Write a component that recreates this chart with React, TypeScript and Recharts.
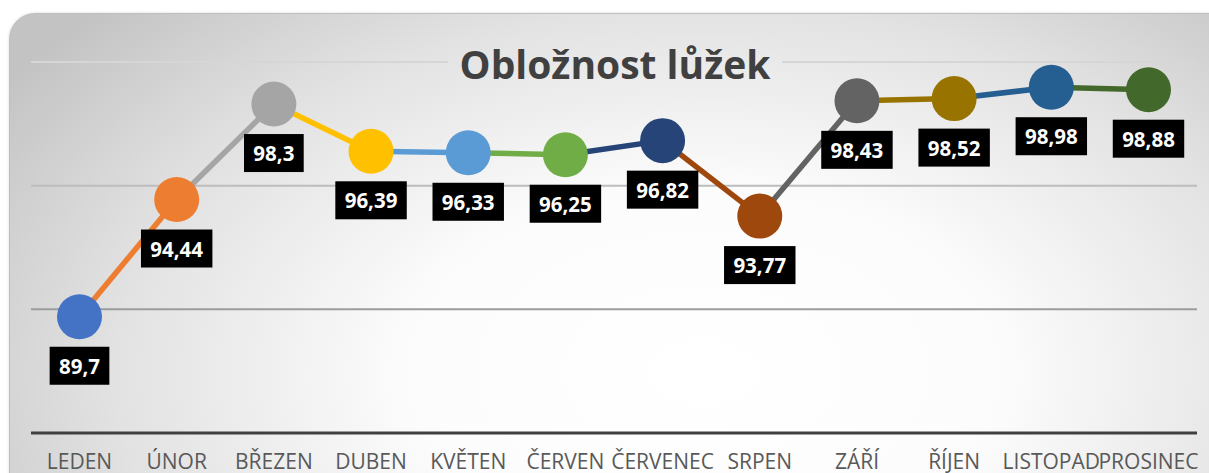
import React from "react";
import { LineChart, Line, XAxis, YAxis, ReferenceLine } from "recharts";

const months = [
  "LEDEN", "ÚNOR", "BŘEZEN", "DUBEN", "KVĚTEN", "ČERVEN",
  "ČERVENEC", "SRPEN", "ZÁŘÍ", "ŘÍJEN", "LISTOPAD", "PROSINEC",
];
const occupancy = [89.7, 94.44, 98.3, 96.39, 96.33, 96.25, 96.82, 93.77, 98.43, 98.52, 98.98, 98.88];
const pointColors = [
  "#4472C4", "#ED7D31", "#A5A5A5", "#FFC000", "#5B9BD5", "#70AD47",
  "#264478", "#9E480E", "#636363", "#997300", "#255E91", "#43682B",
];
const gridLevels = [100, 95, 90];
const gridColors = ["#d6d6d6", "#bdbdbd", "#9c9c9c"];

// each segment k joins point k and k+1, coloured like point k+1 (excel "vary colors")
const data = months.map((month, i) => {
  const row: Record<string, any> = { month, value: occupancy[i] };
  for (let k = 0; k < months.length - 1; k++) {
    row[`s${k}`] = i === k || i === k + 1 ? occupancy[i] : null;
  }
  return row;
});

const W = 1209;
const H = 473;
const CARD = { left: 9, top: 13, width: 1240, height: 500 };
const BG = "radial-gradient(ellipse 68% 105% at 56% 72%, #ffffff 0%, #fcfcfc 35%, #e2e2e2 70%, #c3c3c3 100%)";

const fmt = (v: number) => String(v).replace(".", ",");

const Dot = (props: any) => {
  const { cx, cy, index } = props;
  if (cx == null || cy == null) return null;
  return <circle key={`d${index}`} cx={cx} cy={cy} r={22.5} fill={pointColors[index]} />;
};

const ValueLabel = (props: any) => {
  const { x, y, value, index } = props;
  const text = fmt(value);
  const fs = 20.5;
  let tw = 0;
  for (const ch of text) tw += ch === "," ? 0.27 * fs : 0.572 * fs;
  const bw = tw + 19;
  const bh = 38;
  const cy = y + 49;
  return (
    <g key={`l${index}`}>
      <rect x={x - bw / 2} y={cy - bh / 2} width={bw} height={bh} fill="#000000" />
      <text
        x={x}
        y={cy}
        textAnchor="middle"
        dominantBaseline="central"
        fill="#ffffff"
        fontSize={fs}
        fontWeight={700}
        fontFamily="'Open Sans', sans-serif"
      >
        {text}
      </text>
    </g>
  );
};

export default function App() {
  const titleBox = { left: 448, top: 38, width: 334, height: 52 };
  return (
    <div style={{ position: "absolute", left: 0, top: 0, width: W, height: H, overflow: "hidden", background: "#ffffff" }}>
      <div
        style={{
          position: "absolute",
          left: CARD.left,
          top: CARD.top,
          width: CARD.width,
          height: CARD.height,
          borderRadius: 26,
          border: "1px solid #bfbfbf",
          boxSizing: "border-box",
          background: BG,
          boxShadow: "0 0 3px rgba(0,0,0,0.15)",
        }}
      />
      <div style={{ position: "absolute", left: 0, top: 0 }}>
        <LineChart width={W} height={H} data={data} margin={{ top: 62, right: 12, left: 31, bottom: 10 }}>
          {gridLevels.map((lv, i) => (
            <ReferenceLine key={lv} y={lv} stroke={gridColors[i]} strokeWidth={2} ifOverflow="extendDomain" />
          ))}
          <XAxis
            dataKey="month"
            height={30}
            padding={{ left: 48.5, right: 48.5 }}
            axisLine={{ stroke: "#404040", strokeWidth: 3 }}
            tickLine={false}
            tickSize={0}
            tickMargin={21}
            interval={0}
            tick={{ fill: "#595959", fontSize: 21, fontFamily: "'Open Sans', sans-serif" }}
          />
          <YAxis hide domain={[85, 100]} />
          {months.slice(1).map((_, k) => (
            <Line
              key={`s${k}`}
              dataKey={`s${k}`}
              stroke={pointColors[k + 1]}
              strokeWidth={5.5}
              dot={false}
              activeDot={false}
              connectNulls={false}
              isAnimationActive={false}
            />
          ))}
          <Line
            dataKey="value"
            stroke="none"
            dot={<Dot />}
            activeDot={false}
            label={<ValueLabel />}
            isAnimationActive={false}
          />
        </LineChart>
      </div>
      <div
        style={{
          position: "absolute",
          left: titleBox.left,
          top: titleBox.top,
          width: titleBox.width,
          height: titleBox.height,
          background: BG,
          backgroundSize: `${CARD.width}px ${CARD.height}px`,
          backgroundPosition: `${CARD.left - titleBox.left}px ${CARD.top - titleBox.top}px`,
          backgroundRepeat: "no-repeat",
          color: "#404040",
          fontFamily: "'Open Sans', sans-serif",
          fontWeight: 700,
          fontSize: 39,
          lineHeight: `${titleBox.height}px`,
          textAlign: "center",
          whiteSpace: "nowrap",
        }}
      >
        Obložnost lůžek
      </div>
    </div>
  );
}
